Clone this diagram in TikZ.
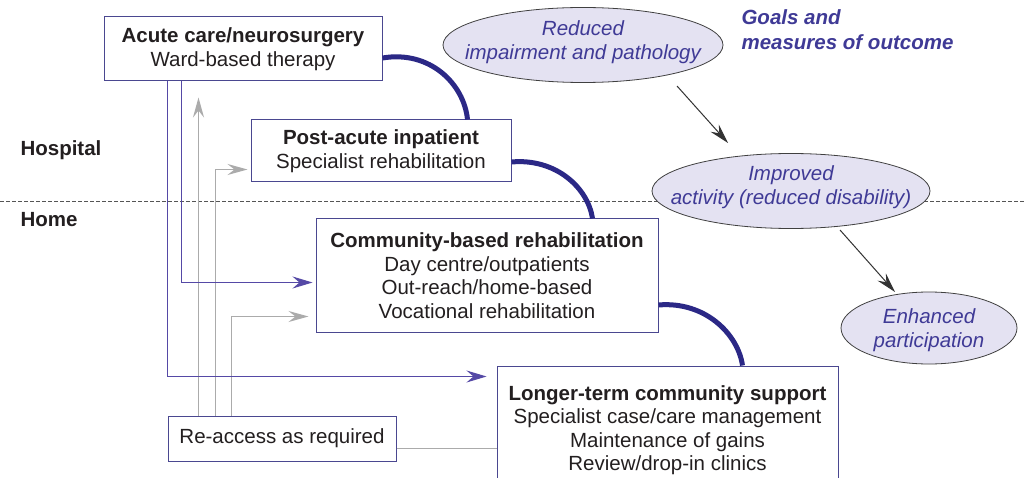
\documentclass[tikz,border=0pt]{standalone}
\usepackage{fontspec}
\setmainfont{Liberation Sans}
\usetikzlibrary{shapes.geometric,arrows.meta,calc}
\definecolor{boxline}{HTML}{4A4790}
\definecolor{txt}{HTML}{231F20}
\definecolor{thickarc}{HTML}{2B2886}
\definecolor{purpline}{HTML}{5549A6}
\definecolor{grayline}{HTML}{ABABAB}
\definecolor{ellfill}{HTML}{E4E2F2}
\definecolor{elltext}{HTML}{3F3A96}
\definecolor{dashcol}{HTML}{555555}
\tikzset{
  stagebox/.style={draw=boxline, line width=1pt, fill=white, align=center, text=txt, inner sep=0pt,
    font=\fontsize{20.5}{23.5}\selectfont},
  goal/.style={ellipse, draw=black!75, line width=0.8pt, fill=ellfill, inner sep=0pt},
  goaltext/.style={align=center, text=elltext, inner sep=0pt,
    font=\fontsize{20.5}{23.5}\selectfont\itshape},
  label/.style={anchor=west, text=txt, font=\fontsize{20.5}{23.5}\selectfont\bfseries},
  flowarc/.style={draw=thickarc, line width=5pt},
  purparrow/.style={draw=purpline, line width=1.1pt, -{Stealth[length=20pt,width=12pt,inset=7pt]}},
  grayarrow/.style={draw=grayline, line width=1.3pt, -{Stealth[length=20pt,width=11pt,inset=7pt]}},
  grayplain/.style={draw=grayline, line width=1.3pt},
  goalarrow/.style={draw=black!80, line width=1pt, -{Stealth[length=20pt,width=11pt,inset=7pt]}},
}
\begin{document}
\begin{tikzpicture}[x=1pt,y=-1pt]
\useasboundingbox (0,0) rectangle (1024,478);
\clip (0,0) rectangle (1024,478);
\fill[white] (0,0) rectangle (1024,478);

% hospital / home divider
\coordinate (dl) at (0,201);
\coordinate (dr) at (1024,201);
\draw[dashcol, line width=0.8pt, dash pattern=on 4pt off 2pt] (dl) -- (dr);

\node[label] (hosp) at (17,150) {Hospital};
\node[label] (home) at (17,220) {Home};

% stage boxes
\node[stagebox, minimum width=278, minimum height=64] (acute) at (243,49)
  {\textbf{Acute care/neurosurgery}\\Ward-based therapy};
\node[stagebox, minimum width=260, minimum height=62] (post) at (381,151)
  {\textbf{Post-acute inpatient}\\Specialist rehabilitation};
\node[stagebox, minimum width=342, minimum height=113] (comm) at (487,275.5)
  {\textbf{Community-based rehabilitation}\\Day centre/outpatients\\Out-reach/home-based\\Vocational rehabilitation};
\node[stagebox, minimum width=341, minimum height=128] (longer) at (667.5,430)
  {\textbf{Longer-term community support}\\Specialist case/care management\\Maintenance of gains\\Review/drop-in clinics};
\node[stagebox, minimum width=228, minimum height=45] (reacc) at (282,438.5)
  {Re-access as required};

% gray re-access connectors
\draw[grayarrow] ([shift={(31,0)}]reacc.north west) -- ([shift={(95,16)}]acute.south west);
\draw[grayarrow] ([shift={(48,0)}]reacc.north west) |- ([shift={(-3,50)}]post.north west);
\draw[grayarrow] ([shift={(64,0)}]reacc.north west) |- ([shift={(-7,98)}]comm.north west);
\coordinate (gl) at ([shift={(0,-13)}]reacc.south east);
\draw[grayplain] (gl) -- (gl -| longer.west);

% purple direct-discharge connectors
\draw[purparrow] ([shift={(64,0)}]acute.south west) |- ([shift={(-10,11)}]longer.north west);
\draw[purparrow] ([shift={(78,0)}]acute.south west) |- ([shift={(-3,64)}]comm.north west);

% thick pathway arcs
\draw[flowarc] ([shift={(0,9)}]acute.east) .. controls (430,50) and (464,84) .. ([shift={(217,0)}]post.north west);
\draw[flowarc] ([shift={(0,11)}]post.east) .. controls (556,158) and (588,188) .. ([shift={(277,0)}]comm.north west);
\draw[flowarc] ([shift={(0,29.5)}]comm.east) .. controls (705,301) and (738,334) .. ([shift={(246,0)}]longer.north west);

% goals
\node[goal, minimum width=280, minimum height=75] (reduced) at (583,45) {};
\node[goaltext] (reducedtxt) at (583,42) {Reduced\\impairment and pathology};
\node[goal, minimum width=278, minimum height=75] (improved) at (791,191) {};
\node[goaltext] (improvedtxt) at (791,187) {Improved\\activity (reduced disability)};
\node[goal, minimum width=176, minimum height=72] (enhanced) at (929,328) {};
\node[goaltext] (enhancedtxt) at (929,330) {Enhanced\\participation};

\node[anchor=west, align=left, text=elltext, font=\fontsize{20.5}{25}\selectfont\bfseries\itshape] (goalstitle) at (738,30)
  {Goals and\\measures of outcome};

\draw[goalarrow] ([shift={(94,41)}]reduced.center) -- ([shift={(-63,-48)}]improved.center);
\draw[goalarrow] ([shift={(49,39)}]improved.center) -- ([shift={(-34,-36)}]enhanced.center);
\end{tikzpicture}
\end{document}
